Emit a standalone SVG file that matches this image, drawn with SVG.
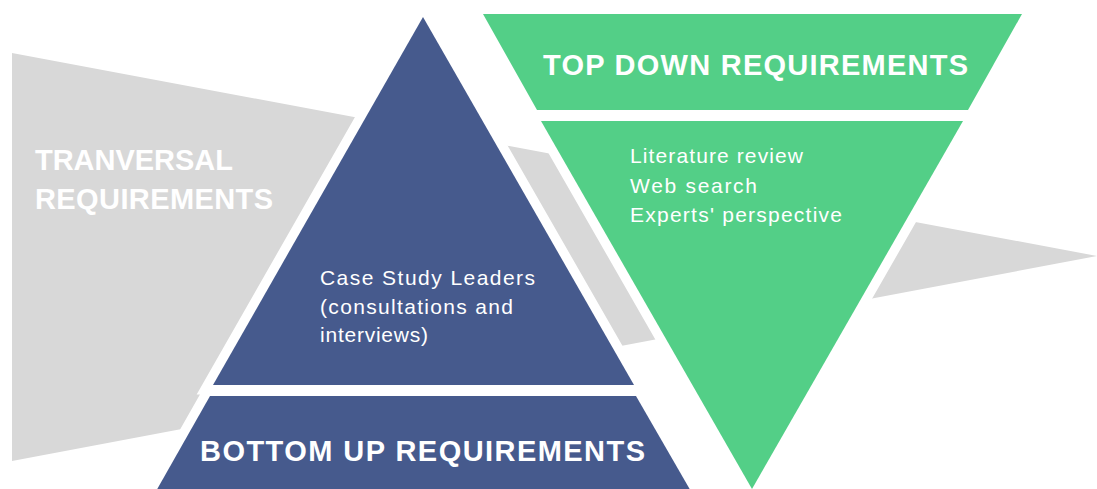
<svg xmlns="http://www.w3.org/2000/svg" width="1097" height="489" viewBox="0 0 1097 489">
  <style>
    .band { fill: #d8d8d8; }
    .blue { fill: #465a8d; stroke: #ffffff; stroke-width: 19; stroke-linejoin: miter; stroke-miterlimit: 4; paint-order: stroke; }
    .green { fill: #53cf87; stroke: #ffffff; stroke-width: 19; stroke-linejoin: miter; stroke-miterlimit: 4; paint-order: stroke; }
    .title { font-family: "Liberation Sans", Arial, sans-serif; font-weight: bold; font-size: 29px; fill: #ffffff; }
    .body { font-family: "Liberation Sans", Arial, sans-serif; font-size: 21px; fill: #ffffff; }
  </style>
  <rect width="1097" height="489" fill="#ffffff"/>

  <!-- Transversal band running behind both pyramids -->
  <g id="transversal">
    <polygon class="band" points="12,53 1097,256 12,461"/>
    <text class="title" x="35" y="170" textLength="198" lengthAdjust="spacing">TRANVERSAL</text>
    <text class="title" x="35" y="209" textLength="238" lengthAdjust="spacing">REQUIREMENTS</text>
  </g>

  <!-- Bottom-up pyramid -->
  <g id="bottom-up-sources">
    <polygon class="blue" points="423,17 634,385 213,385"/>
    <text class="body" x="320" y="285" textLength="215" lengthAdjust="spacing">Case Study Leaders</text>
    <text class="body" x="320" y="313.5" textLength="193" lengthAdjust="spacing">(consultations and</text>
    <text class="body" x="320" y="342" textLength="108" lengthAdjust="spacing">interviews)</text>
  </g>
  <g id="bottom-up">
    <polygon class="blue" points="210,396 636,396 696,500 151,500"/>
    <text class="title" x="200" y="461" textLength="445" lengthAdjust="spacing">BOTTOM UP REQUIREMENTS</text>
  </g>

  <!-- Top-down inverted pyramid -->
  <g id="top-down">
    <polygon class="green" points="483,14 1022,14 968,110 537,110"/>
    <text class="title" x="543" y="75" textLength="425" lengthAdjust="spacing">TOP DOWN REQUIREMENTS</text>
  </g>
  <g id="top-down-sources">
    <polygon class="green" points="541,121 963,121 752,489"/>
    <text class="body" x="630" y="163" textLength="173" lengthAdjust="spacing">Literature review</text>
    <text class="body" x="630" y="193" textLength="127" lengthAdjust="spacing">Web search</text>
    <text class="body" x="630" y="222" textLength="212" lengthAdjust="spacing">Experts' perspective</text>
  </g>

  <g id="connectors"></g>
</svg>
